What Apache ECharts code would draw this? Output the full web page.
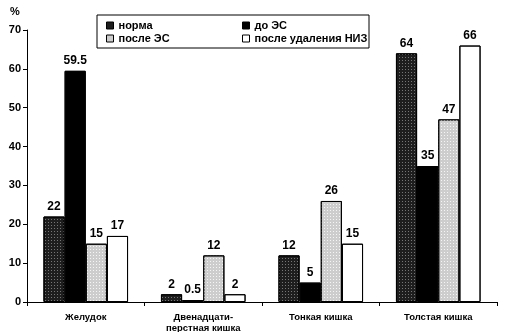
<!DOCTYPE html>
<html><head><meta charset="utf-8">
<script src="https://cdn.jsdelivr.net/npm/echarts@6/dist/echarts.min.js"></script>
<style>html,body{margin:0;padding:0;background:#fff}#c{width:507px;height:332px}</style>
</head><body><div id="c"></div>
<script>
var categories = ['Желудок', 'Двенадцати-\nперстная кишка', 'Тонкая кишка', 'Толстая кишка'];
var seriesNames = ['норма', 'до ЭС', 'после ЭС', 'после удаления НИЗ'];
var normaVals = [22, 2, 12, 64];
var doEsVals = [59.5, 0.5, 5, 35];
var posleEsVals = [15, 12, 26, 47];
var posleNizVals = [17, 2, 15, 66];
var yTicks = [0, 10, 20, 30, 40, 50, 60, 70];

var FONT = 'Liberation Sans';
var colors = ['#1e1e1e', '#000000', '#cdcdcd', '#ffffff'];
var decals = [
  { symbol: 'rect', symbolSize: 1, dashArrayX: [1, 2], dashArrayY: [1, 2], rotation: 0, color: 'rgba(140,140,140,0.8)' },
  'none',
  { symbol: 'rect', symbolSize: 1, dashArrayX: [1, 2], dashArrayY: [1, 2], rotation: 0, color: 'rgba(255,255,255,0.8)' },
  'none'
];
var allVals = [normaVals, doEsVals, posleEsVals, posleNizVals];

var chart = echarts.init(document.getElementById('c'));
var series = seriesNames.map(function (n, i) {
  var is = { color: colors[i], borderColor: '#000', borderWidth: 1 };
  if (decals[i] !== 'none') is.decal = decals[i]; else is.decal = { symbol: 'none' };
  return {
    name: n, type: 'bar', data: allVals[i],
    barGap: '0%', barCategoryGap: '28%',
    itemStyle: is,
    label: { show: true, position: 'top', distance: 4, color: '#000', fontFamily: FONT, fontWeight: 'bold', fontSize: 12 }
  };
});
var legendText = { fontFamily: FONT, fontWeight: 'bold', fontSize: 11, color: '#000' };
chart.setOption({
  animation: false,
  aria: { enabled: true, decal: { show: true } },
  textStyle: { fontFamily: FONT },
  grid: { left: 27, right: 10, top: 30, bottom: 30, containLabel: false, outerBoundsMode: 'none' },
  legend: [
    { data: ['норма', 'после ЭС'], orient: 'vertical', left: 101, top: 15, itemWidth: 7, itemHeight: 7, itemGap: 2, icon: 'rect',
      textStyle: legendText, itemStyle: { borderColor: '#000', borderWidth: 1, decal: 'none' } },
    { data: ['до ЭС', 'после удаления НИЗ'], orient: 'vertical', left: 237, top: 15, itemWidth: 7, itemHeight: 7, itemGap: 2, icon: 'rect',
      textStyle: legendText, itemStyle: { borderColor: '#000', borderWidth: 1, decal: 'none' } }
  ],
  graphic: [
    { type: 'rect', shape: { x: 97, y: 15, width: 272, height: 33 }, style: { fill: 'none', stroke: '#000', lineWidth: 1 }, z: 0 },
    { type: 'text', left: 10, top: 6, style: { text: '%', font: 'bold 11px "Liberation Sans"', fill: '#000' } }
  ],
  xAxis: {
    type: 'category', data: categories,
    axisLine: { lineStyle: { color: '#000', width: 1 } },
    axisTick: { show: true, length: 4, lineStyle: { color: '#000' } },
    axisLabel: { color: '#000', fontFamily: FONT, fontWeight: 'bold', fontSize: 9.5, margin: 10, lineHeight: 11, interval: 0 }
  },
  yAxis: {
    type: 'value', min: 0, max: 70, interval: 10,
    axisLine: { show: true, lineStyle: { color: '#000', width: 1 } },
    axisTick: { show: true, length: 4, lineStyle: { color: '#000' } },
    splitLine: { show: false },
    axisLabel: { color: '#000', fontFamily: FONT, fontWeight: 'bold', fontSize: 11, margin: 6,
      formatter: function (v) { return yTicks.indexOf(v) >= 0 ? String(v) : ''; } }
  },
  series: series
});
</script></body></html>
